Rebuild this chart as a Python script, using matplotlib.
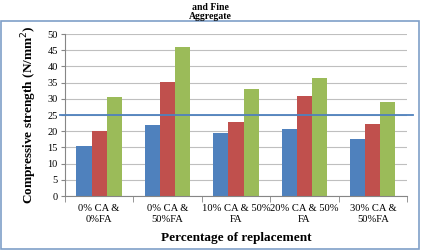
import numpy as np
import matplotlib
matplotlib.use("Agg")
from matplotlib import pyplot as plt
from matplotlib.patches import Rectangle

categories = ["0% CA &\n0%FA", "0% CA &\n50%FA", "10% CA & 50%\nFA", "20% CA & 50%\nFA", "30% CA &\n50%FA"]
series_a = [15.5, 22.0, 19.5, 20.8, 17.5]  # blue
series_b = [20.0, 35.3, 22.7, 31.0, 22.3]  # red
series_c = [30.5, 46.0, 33.0, 36.3, 29.0]  # green
target = 25

plt.rcParams['font.family'] = ['Liberation Serif', 'DejaVu Serif']

fig = plt.figure(figsize=(4.21, 2.52), dpi=100)
ax = fig.add_axes([0.154, 0.222, 0.813, 0.643])

x = np.arange(len(categories))
w = 0.22
ax.bar(x - w, series_a, w, color='#4F81BD', zorder=2)
ax.bar(x, series_b, w, color='#C0504D', zorder=2)
ax.bar(x + w, series_c, w, color='#9BBB59', zorder=2)

# target line, runs a little past the axes on both sides
ax.plot([-0.57, 4.59], [target, target], color='#4F81BD', lw=1.3, zorder=3, clip_on=False)

ax.set_xlim(-0.5, 4.5)
ax.set_ylim(0, 50)
ax.set_yticks(range(0, 51, 5))
ax.yaxis.grid(True, color='#BFBFBF', lw=0.8, zorder=0)
ax.set_axisbelow(True)
ax.set_xticks(x)
ax.set_xticklabels(categories, fontsize=7.6, linespacing=1.2)
ax.set_xticks(np.arange(-0.5, 5, 1), minor=True)
ax.tick_params(axis='x', which='major', length=0, pad=6)
ax.tick_params(axis='x', which='minor', length=4, color='#868686')
ax.tick_params(axis='y', labelsize=7.5, length=3, color='#868686', pad=2)
for s in ['top', 'right']:
    ax.spines[s].set_visible(False)
for s in ['left', 'bottom']:
    ax.spines[s].set_color('#868686')

ax.set_ylabel('Compressive strength (N/mm$^2$)', fontsize=9.5, fontweight='bold', labelpad=6)
ax.set_xlabel('Percentage of replacement', fontsize=9.5, fontweight='bold', labelpad=6)

fig.text(0.5, 0.99, 'and Fine\nAggregate', ha='center', va='top', fontsize=7,
         fontweight='bold', linespacing=1.0)

fig.patches.append(Rectangle((0.002, 0.012), 0.993, 0.905, transform=fig.transFigure,
                             fill=False, edgecolor='#7F9FC8', lw=1.2))

fig.savefig('out.png', dpi=100)
